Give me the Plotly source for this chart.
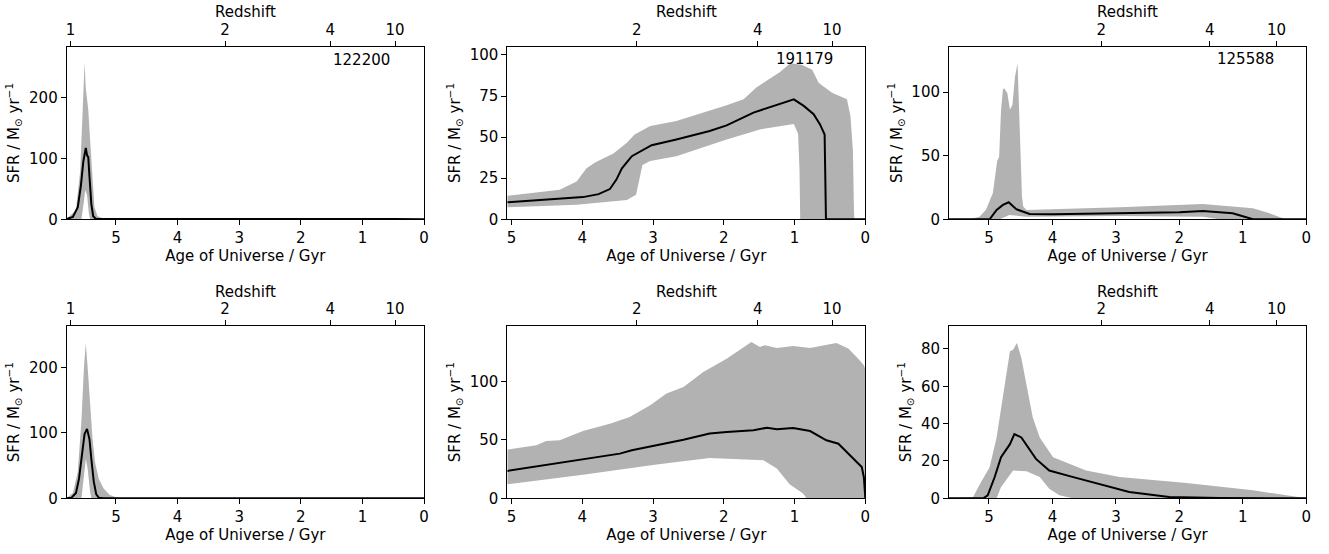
import plotly.graph_objects as go

# ---------------- data ----------------
Z_TICKS = [1, 2, 4, 10]
Z_TICK_AGES = [5.74, 3.23, 1.52, 0.47]   # age of universe (Gyr) at those redshifts
AGE_TICKS = [0, 1, 2, 3, 4, 5]
GALAXY_IDS = ["122200", "191179", "125588", "", "", ""]

# panel 1 (top-left)
P1_MED_AGE = [5.80, 5.70, 5.62, 5.57, 5.53, 5.50, 5.49, 5.47, 5.45, 5.43, 5.40, 5.37, 5.33, 5.20, 4.00, 3.00, 2.00, 1.00, 0.50, 0.00]
P1_MED_SFR = [0.5, 4, 20, 55, 95, 110, 117, 105, 102, 70, 25, 5, 0.8, 0.3, 0.5, 0.8, 1.2, 0.8, 0.3, 0.0]
P1_UP_AGE = [5.80, 5.65, 5.58, 5.53, 5.51, 5.49, 5.45, 5.42, 5.38, 5.35, 5.30, 5.20, 4.00, 2.00, 1.00, 0.00]
P1_UP_SFR = [1, 15, 80, 200, 257, 215, 180, 130, 60, 20, 5, 1, 1, 2, 1, 0]
P1_LO_AGE = [5.80, 5.56, 5.52, 5.50, 5.47, 5.44, 5.42, 0.00]
P1_LO_SFR = [0, 0, 30, 48, 40, 10, 0, 0]

# panel 2 (top-middle)
P2_MED_AGE = [5.06, 3.99, 3.77, 3.61, 3.52, 3.44, 3.30, 3.14, 3.02, 2.67, 2.20, 1.96, 1.58, 1.01, 0.87, 0.73, 0.64, 0.575, 0.556, 0.0]
P2_MED_SFR = [10.4, 13.5, 15.3, 18.4, 24, 31, 38.4, 42.4, 45.1, 48.6, 53.7, 57.1, 64.9, 73, 69, 63.9, 57.7, 51.6, 0, 0]
P2_UP_AGE = [5.06, 4.32, 4.08, 3.99, 3.94, 3.82, 3.56, 3.37, 3.26, 3.04, 2.67, 1.96, 1.72, 1.54, 1.21, 1.06, 0.90, 0.75, 0.66, 0.47, 0.26, 0.21, 0.175, 0.16, 0.155, 0.0]
P2_UP_SFR = [14.3, 18, 23, 28, 31, 34.5, 40, 46.5, 51.6, 56.7, 59.8, 69.4, 73, 80.2, 89.4, 95, 94, 91, 83, 77, 73, 63, 42, 5, 0, 0]
P2_LO_AGE = [5.06, 4.08, 3.37, 3.24, 3.19, 3.15, 3.04, 2.67, 1.96, 1.49, 1.01, 0.95, 0.93, 0.92, 0.0]
P2_LO_SFR = [7.3, 8.8, 11.8, 15, 25, 33, 35.5, 38.4, 48.6, 54.7, 58, 52, 30, 0, 0]

# panel 3 (top-right)
P3_MED_AGE = [5.63, 4.99, 4.88, 4.78, 4.69, 4.57, 4.36, 3.99, 2.00, 1.63, 1.16, 0.90, 0.84, 0.0]
P3_MED_SFR = [0, 0, 7.3, 11.3, 13.4, 7.9, 4.2, 3.9, 5.5, 6.5, 4.7, 0.5, 0, 0]
P3_UP_AGE = [5.63, 5.30, 5.15, 5.05, 4.94, 4.87, 4.84, 4.81, 4.78, 4.76, 4.71, 4.67, 4.63, 4.59, 4.55, 4.52, 4.48, 4.46, 4.41, 2.94, 1.63, 0.84, 0.58, 0.35, 0.32, 0.0]
P3_UP_SFR = [0, 0, 2, 7.3, 20.4, 46, 49, 86, 102, 103, 99, 86, 90, 112, 122.5, 82, 18, 10, 7.3, 9.4, 12, 8.6, 4.7, 0.5, 0, 0]
P3_LO_AGE = [5.63, 4.83, 4.68, 4.41, 2.94, 1.63, 1.37, 0.0]
P3_LO_SFR = [0, 0, 3.4, 2, 2.5, 2, 0, 0]

# panel 4 (bottom-left)
P4_MED_AGE = [5.80, 5.72, 5.65, 5.60, 5.55, 5.51, 5.47, 5.43, 5.40, 5.36, 5.32, 5.28, 5.20, 0.00]
P4_MED_SFR = [0, 1, 8, 30, 68, 98, 106, 90, 60, 25, 6, 1, 0, 0]
P4_UP_AGE = [5.80, 5.70, 5.62, 5.56, 5.52, 5.49, 5.46, 5.42, 5.38, 5.34, 5.28, 5.20, 5.10, 5.00, 4.90, 0.00]
P4_UP_SFR = [0.5, 8, 40, 120, 200, 237, 200, 140, 90, 55, 30, 15, 5, 1.5, 0.5, 0]
P4_LO_AGE = [5.80, 5.56, 5.52, 5.49, 5.46, 5.42, 5.40, 0.00]
P4_LO_SFR = [0, 0, 35, 60, 45, 10, 0, 0]

# panel 5 (bottom-middle)
P5_MED_AGE = [5.06, 3.99, 3.47, 3.30, 2.95, 2.57, 2.20, 1.96, 1.58, 1.39, 1.25, 1.02, 0.78, 0.55, 0.38, 0.19, 0.05, 0.02, 0.0]
P5_MED_SFR = [23.4, 33, 38.2, 41, 45.3, 50.1, 55.3, 56.7, 58.1, 60.4, 59, 60.1, 57.5, 49.6, 46.7, 35.3, 26.8, 18, 0]
P5_UP_AGE = [5.06, 4.65, 4.51, 4.32, 3.99, 3.61, 3.33, 3.04, 2.81, 2.57, 2.29, 1.96, 1.61, 1.49, 1.42, 1.25, 1.02, 0.78, 0.41, 0.24, 0.10, 0.02, 0.0]
P5_UP_SFR = [41.6, 45.3, 49, 49.6, 57.5, 63.8, 69.5, 79.5, 89.5, 95.2, 108, 119.4, 133.6, 129.3, 130.8, 128.5, 130.2, 128.5, 132.8, 128, 119.4, 113.7, 110.8]
P5_LO_AGE = [5.06, 3.99, 2.95, 2.20, 1.44, 1.25, 1.07, 0.88, 0.83, 0.0]
P5_LO_SFR = [12, 20.2, 28.8, 34.5, 32.5, 25.4, 12, 4, 0, 0]

# panel 6 (bottom-right)
P6_MED_AGE = [5.63, 5.09, 5.02, 4.91, 4.81, 4.67, 4.60, 4.49, 4.26, 4.05, 3.73, 3.26, 2.79, 2.16, 1.37, 0.0]
P6_MED_SFR = [0, 0, 1.6, 11.4, 22, 29, 34.4, 32.6, 21.1, 14.9, 11.9, 7.8, 3.4, 0.7, 0.1, 0]
P6_UP_AGE = [5.63, 5.25, 5.14, 4.99, 4.88, 4.78, 4.67, 4.62, 4.56, 4.49, 4.41, 4.31, 4.20, 3.99, 3.47, 2.94, 1.89, 0.84, 0.0]
P6_UP_SFR = [0, 0.7, 7.8, 16.7, 32.6, 55.7, 78.8, 79.6, 83.2, 75.2, 61, 43.3, 32.6, 22, 14.9, 11.4, 8.2, 4.3, 0]
P6_LO_AGE = [5.63, 4.88, 4.81, 4.62, 4.41, 4.20, 4.05, 3.89, 3.68, 0.0]
P6_LO_SFR = [0, 0, 6, 14.9, 14.5, 11.4, 5.1, 1.6, 0, 0]

PANELS = [
    (P1_MED_AGE, P1_MED_SFR, P1_UP_AGE, P1_UP_SFR, P1_LO_AGE, P1_LO_SFR),
    (P2_MED_AGE, P2_MED_SFR, P2_UP_AGE, P2_UP_SFR, P2_LO_AGE, P2_LO_SFR),
    (P3_MED_AGE, P3_MED_SFR, P3_UP_AGE, P3_UP_SFR, P3_LO_AGE, P3_LO_SFR),
    (P4_MED_AGE, P4_MED_SFR, P4_UP_AGE, P4_UP_SFR, P4_LO_AGE, P4_LO_SFR),
    (P5_MED_AGE, P5_MED_SFR, P5_UP_AGE, P5_UP_SFR, P5_LO_AGE, P5_LO_SFR),
    (P6_MED_AGE, P6_MED_SFR, P6_UP_AGE, P6_UP_SFR, P6_LO_AGE, P6_LO_SFR),
]

# ---------------- layout settings ----------------
W, H = 1329, 554
X_MAX = [5.80, 5.06, 5.63, 5.80, 5.06, 5.63]
Y_MAX = [283, 105, 135.6, 263, 147.3, 92.3]
Y_DTICK = [100, 25, 50, 100, 50, 20]
COL_PX = [(66.7, 424.0), (507.3, 865.3), (949.0, 1306.3)]
ROW_PX = [(46.7, 219.3), (326.0, 498.3)]
REDSHIFT_TITLE_Y_PX = [12, 292]
ID_POS_PX = [(361.7, 60), (804, 59), (1245, 59)]

FONT = dict(family="DejaVu Sans", size=15, color="black")
BAND = "rgb(178,178,178)"

fig = go.Figure()
layout = dict(
    width=W, height=H, margin=dict(l=0, r=0, t=0, b=0),
    paper_bgcolor="white", plot_bgcolor="white",
    font=FONT, showlegend=False, template="none", annotations=[],
)

for i, (ma, ms, ua, us, la, ls) in enumerate(PANELS):
    n = i + 1
    xa = "x" if n == 1 else f"x{n}"
    ya = "y" if n == 1 else f"y{n}"
    top = f"x{n + 6}"
    r, c = divmod(i, 3)
    x0, x1 = COL_PX[c]
    yt, yb = ROW_PX[r]

    fig.add_trace(go.Scatter(
        x=list(ua) + list(la)[::-1], y=list(us) + list(ls)[::-1],
        fill="toself", fillcolor=BAND, line=dict(width=0, color=BAND),
        mode="lines", hoverinfo="skip", xaxis=xa, yaxis=ya))
    fig.add_trace(go.Scatter(
        x=ma, y=ms, mode="lines", line=dict(color="black", width=2),
        xaxis=xa, yaxis=ya))
    fig.add_trace(go.Scatter(
        x=Z_TICK_AGES, y=[0] * len(Z_TICK_AGES), mode="markers",
        marker=dict(opacity=0), hoverinfo="skip", xaxis=top, yaxis=ya))

    common = dict(showgrid=False, zeroline=False, ticks="outside", ticklen=5,
                  tickwidth=1, tickcolor="black", linecolor="black",
                  linewidth=1, automargin=False, tickfont=FONT)
    layout["xaxis" if n == 1 else f"xaxis{n}"] = dict(
        common, domain=[x0 / W, x1 / W], anchor=ya,
        range=[X_MAX[i], 0], tickvals=AGE_TICKS, showline=True, mirror=True,
        title=dict(text="Age of Universe / Gyr", font=FONT, standoff=4))
    layout["yaxis" if n == 1 else f"yaxis{n}"] = dict(
        common, domain=[1 - yb / H, 1 - yt / H], anchor=xa,
        range=[0, Y_MAX[i]], dtick=Y_DTICK[i], tick0=0, showline=True, mirror=True,
        title=dict(text="SFR / M<sub>⊙</sub> yr<sup>−1</sup>", font=FONT, standoff=5))
    layout[f"xaxis{n + 6}"] = dict(
        common, overlaying=xa, anchor=ya, side="top",
        range=[X_MAX[i], 0], tickvals=Z_TICK_AGES, ticktext=[str(z) for z in Z_TICKS],
        showline=False)

    # top-axis title
    layout["annotations"].append(dict(
        text="Redshift", xref="paper", yref="paper",
        x=(x0 + x1) / 2 / W, y=1 - REDSHIFT_TITLE_Y_PX[r] / H,
        xanchor="center", yanchor="middle", showarrow=False, font=FONT))

    if GALAXY_IDS[i]:
        px, py = ID_POS_PX[c]
        layout["annotations"].append(dict(
            text=GALAXY_IDS[i], xref="paper", yref="paper", x=px / W, y=1 - py / H,
            xanchor="center", yanchor="middle", showarrow=False, font=FONT))

fig.update_layout(**layout)
fig.write_html("out.html")
